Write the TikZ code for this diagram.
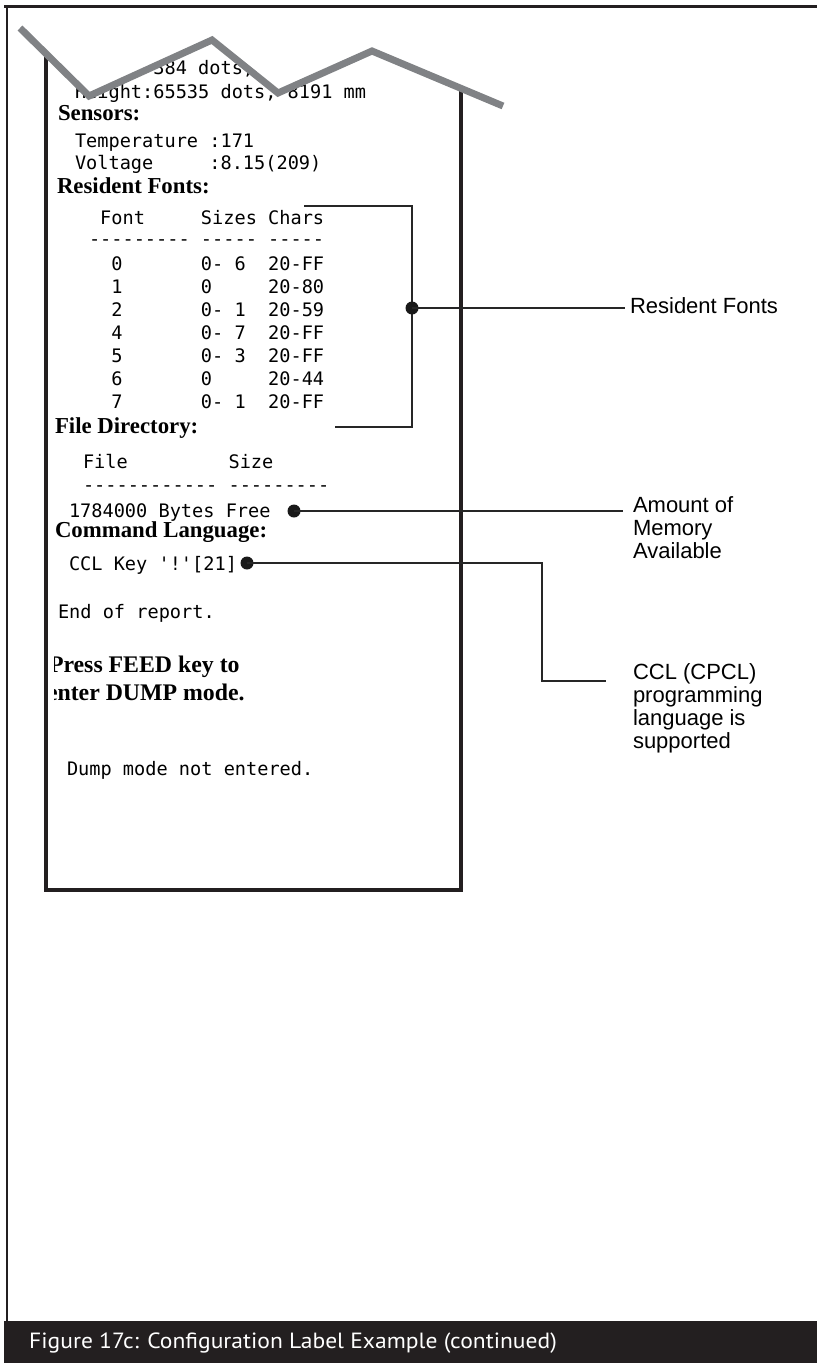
\documentclass[tikz,border=0pt]{standalone}
\usepackage{fontspec}
\setmainfont{Liberation Serif}
\setmonofont{DejaVu Sans Mono}
\newfontfamily\labelfont{Liberation Sans}
\newfontfamily\capfont[FakeStretch=1.07]{PT Sans}
\definecolor{ink}{HTML}{231F20}
\definecolor{zigcol}{HTML}{808285}
\begin{document}
\begin{tikzpicture}[x=1pt,y=-1pt,
  mono/.style={anchor=base west, inner sep=0pt, outer sep=0pt, font=\ttfamily\fontsize{18.6}{20}\selectfont},
  head/.style={anchor=base west, inner sep=0pt, outer sep=0pt, font=\bfseries\fontsize{22.8}{24}\selectfont},
  lab/.style={anchor=base west, inner sep=0pt, outer sep=0pt, align=left, font=\labelfont\fontsize{22}{23}\selectfont},
  call/.style={draw=black!85, line width=1.3pt},
  dotnode/.style={circle, fill=black!90, minimum size=13pt, inner sep=0pt, outer sep=0pt},
  border/.style={draw=ink, line width=4pt},
  tear/.style={draw=zigcol, line width=7pt, line join=miter}]
\useasboundingbox (0,0) rectangle (817,1363);
% outer frame
\draw[ink, line width=3pt] (4,6.5) -- (817,6.5);
\draw[ink, line width=2.2pt] (7,5) -- (7,1321);
% caption bar
\fill[ink] (4,1321) rectangle (817,1363);
\node[anchor=base west, inner sep=0pt, text=white, font=\capfont\fontsize{22}{24}\selectfont] (cap) at (29,1348) {Figure 17c: Configuration Label Example (continued)};
% receipt border
\draw[border] (46,54) -- (46,890) -- (461,890) -- (461,89);
% receipt content, clipped below the torn edge
\begin{scope}
\clip (53.5,60.5) -- (89,96) -- (212,40) -- (278,93) -- (372,51) -- (461,89) -- (461,890) -- (53.5,890) -- cycle;
\node[mono] (w) at (75,74) {Width: 384 dots, 48 mm};
\node[mono] (h) at (75,98) {Height:65535 dots, 8191 mm};
\node[head] (sens) at (58,120) {Sensors:};
\node[mono] (temp) at (75,147) {Temperature :171};
\node[mono] (volt) at (75,169) {Voltage~~~~~:8.15(209)};
\node[head] (rf) at (57,193) {Resident Fonts:};
\node[mono] (th) at (89,224) {~Font~~~~~Sizes~Chars};
\node[mono] (td) at (89,245) {---------~-----~-----};
\node[mono] (r0) at (89,270) {~~0~~~~~~~0-~6~~20-FF};
\node[mono] (r1) at (89,293) {~~1~~~~~~~0~~~~~20-80};
\node[mono] (r2) at (89,316) {~~2~~~~~~~0-~1~~20-59};
\node[mono] (r4) at (89,339) {~~4~~~~~~~0-~7~~20-FF};
\node[mono] (r5) at (89,362) {~~5~~~~~~~0-~3~~20-FF};
\node[mono] (r6) at (89,385) {~~6~~~~~~~0~~~~~20-44};
\node[mono] (r7) at (89,408) {~~7~~~~~~~0-~1~~20-FF};
\node[head] (fd) at (55,433) {File Directory:};
\node[mono] (fh) at (83,468) {File~~~~~~~~~Size};
\node[mono] (fdash) at (83,491) {------------~---------};
\node[mono] (free) at (69,517) {1784000 Bytes Free};
\node[head] (cl) at (55,537) {Command Language:};
\node[mono] (ccl) at (69,570) {CCL Key '!'[21]};
\node[mono] (eor) at (58,618) {End of report.};
\node[head, font=\bfseries\fontsize{23.8}{25}\selectfont] (p1) at (49,672) {Press FEED key to};
\node[head, font=\bfseries\fontsize{23.8}{25}\selectfont] (p2) at (47,700) {enter DUMP mode.};
\node[mono] (dump) at (67,775) {Dump mode not entered.};
\end{scope}
% torn edge
\draw[tear] (20,28) -- (89,96) -- (212,40) -- (278,93) -- (372,51) -- (503,106);
% callouts (base anchor of a multi-line label is its last line)
\node[lab] (l1) at (630,313) {Resident Fonts};
\node[lab] (l2) at (633,558) {Amount of\\Memory\\Available};
\node[lab] (l3) at (633,748) {CCL (CPCL)\\programming\\language is\\supported};
\coordinate (bt) at (304,206);
\coordinate (btr) at (412,206);
\coordinate (bbr) at (412,427);
\coordinate (bb) at (335,427);
\draw[call] (bt) -- (btr) -- (bbr) -- (bb);
\node[dotnode] (d1) at (412,308) {};
\coordinate (e1) at (625,308);
\draw[call] (d1.center) -- (e1);
\node[dotnode] (d2) at (294,511) {};
\coordinate (e2) at (623,511);
\draw[call] (d2.center) -- (e2);
\node[dotnode] (d3) at (247,563) {};
\coordinate (k1) at (542,563);
\coordinate (e3) at (606,681);
\draw[call] (d3.center) -- (k1) |- (e3);
\end{tikzpicture}
\end{document}
